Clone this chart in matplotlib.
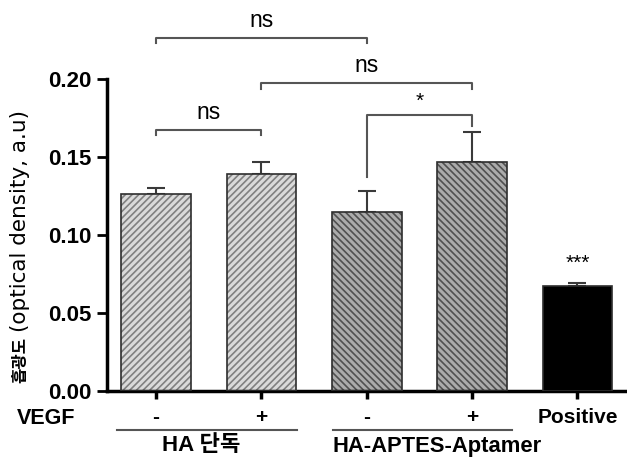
import numpy as np
import matplotlib
matplotlib.use('Agg')
import matplotlib.pyplot as plt

plt.rcParams['font.family'] = ['Liberation Sans', 'Noto Sans CJK KR']
plt.rcParams['hatch.linewidth'] = 1.2

# data
labels = ['-', '+', '-', '+', 'Positive']
means = [0.126, 0.139, 0.115, 0.147, 0.067]
errs = [0.004, 0.008, 0.0135, 0.019, 0.002]
faces = ['#dadada', '#dadada', '#ababab', '#ababab', 'black']
hatches = ['/////', '/////', '\\\\\\\\\\', '\\\\\\\\\\', '']
hatch_cols = ['#808080', '#808080', '#505050', '#505050', 'black']
groups = ['HA 단독', 'HA-APTES-Aptamer']
# significance brackets: (left bar, right bar, height, left leg end, right leg end, text)
brackets = [(0, 2, 0.2263, 0.2231, 0.2231, 'ns'),
            (1, 3, 0.1974, 0.1936, 0.1936, 'ns'),
            (0, 1, 0.1673, 0.1641, 0.1641, 'ns'),
            (2, 3, 0.1769, 0.1370, 0.1700, '*')]

fig = plt.figure(figsize=(6.27, 4.57), dpi=100)
ax = fig.add_axes([107/627, 66/457, 520/627, 312/457])
x = np.arange(len(means))
for i in x:
    # hatched fill, then a dark outline on top
    ax.bar(i, means[i], width=0.66, color=faces[i], edgecolor=hatch_cols[i],
           hatch=hatches[i], linewidth=0, zorder=2)
    ax.bar(i, means[i], width=0.66, fill=False, edgecolor='#2e2e2e', linewidth=1.2, zorder=3)
ax.errorbar(x, means, yerr=[np.zeros(len(errs)), errs], fmt='none',
            ecolor='#3a3a3a', elinewidth=1.5, capsize=6.5, capthick=1.5, zorder=1)

ax.set_xlim(-0.466, 4.47)
ax.set_ylim(0, 0.2)
ax.set_yticks([0, 0.05, 0.10, 0.15, 0.20])
ax.set_yticklabels(['0.00', '0.05', '0.10', '0.15', '0.20'], fontsize=16, fontweight='bold')
ax.set_xticks(x)
ax.set_xticklabels(labels, fontsize=15, fontweight='bold')
for s in ['top', 'right']:
    ax.spines[s].set_visible(False)
for s in ['left', 'bottom']:
    ax.spines[s].set_linewidth(2.5)
ax.tick_params(axis='y', length=7, width=2, pad=4)
ax.tick_params(axis='x', length=6, width=2.5, pad=6)

for a, b, h, la, lb, t in brackets:
    ax.plot([a, a, b, b], [la, h, h, lb], color='#555555', lw=1.5, clip_on=False)
    if t == 'ns':
        ax.text((a + b) / 2, h + 0.004, t, ha='center', va='bottom', fontsize=16.5)
    else:
        ax.text((a + b) / 2, h + 0.003, t, ha='center', va='bottom', fontsize=15)
ax.text(4, 0.0755, '***', ha='center', va='bottom', fontsize=15)

tr = ax.get_xaxis_transform()
ax.plot([-0.37, 1.34], [-0.125, -0.125], color='#555555', lw=1.5, transform=tr, clip_on=False)
ax.plot([1.68, 3.38], [-0.125, -0.125], color='#555555', lw=1.5, transform=tr, clip_on=False)
ax.text(0.43, -0.175, groups[0], transform=tr, ha='center', va='center', fontsize=16, fontweight='bold')
ax.text(2.665, -0.178, groups[1], transform=tr, ha='center', va='center', fontsize=15.8, fontweight='bold')

fig.text(17/627, 1 - 418/457, 'VEGF', ha='left', va='center', fontsize=15.5, fontweight='bold')
fig.text(20/627, 74/457, '흡광도', rotation=90, ha='center', va='bottom',
         fontsize=12, fontweight='bold', family=['Noto Sans CJK KR'])
fig.text(20/627, 125/457, '(optical density, a.u)', rotation=90, ha='center', va='bottom',
         fontsize=15.5, family=['DejaVu Sans'])

fig.savefig('out.png', dpi=100)
